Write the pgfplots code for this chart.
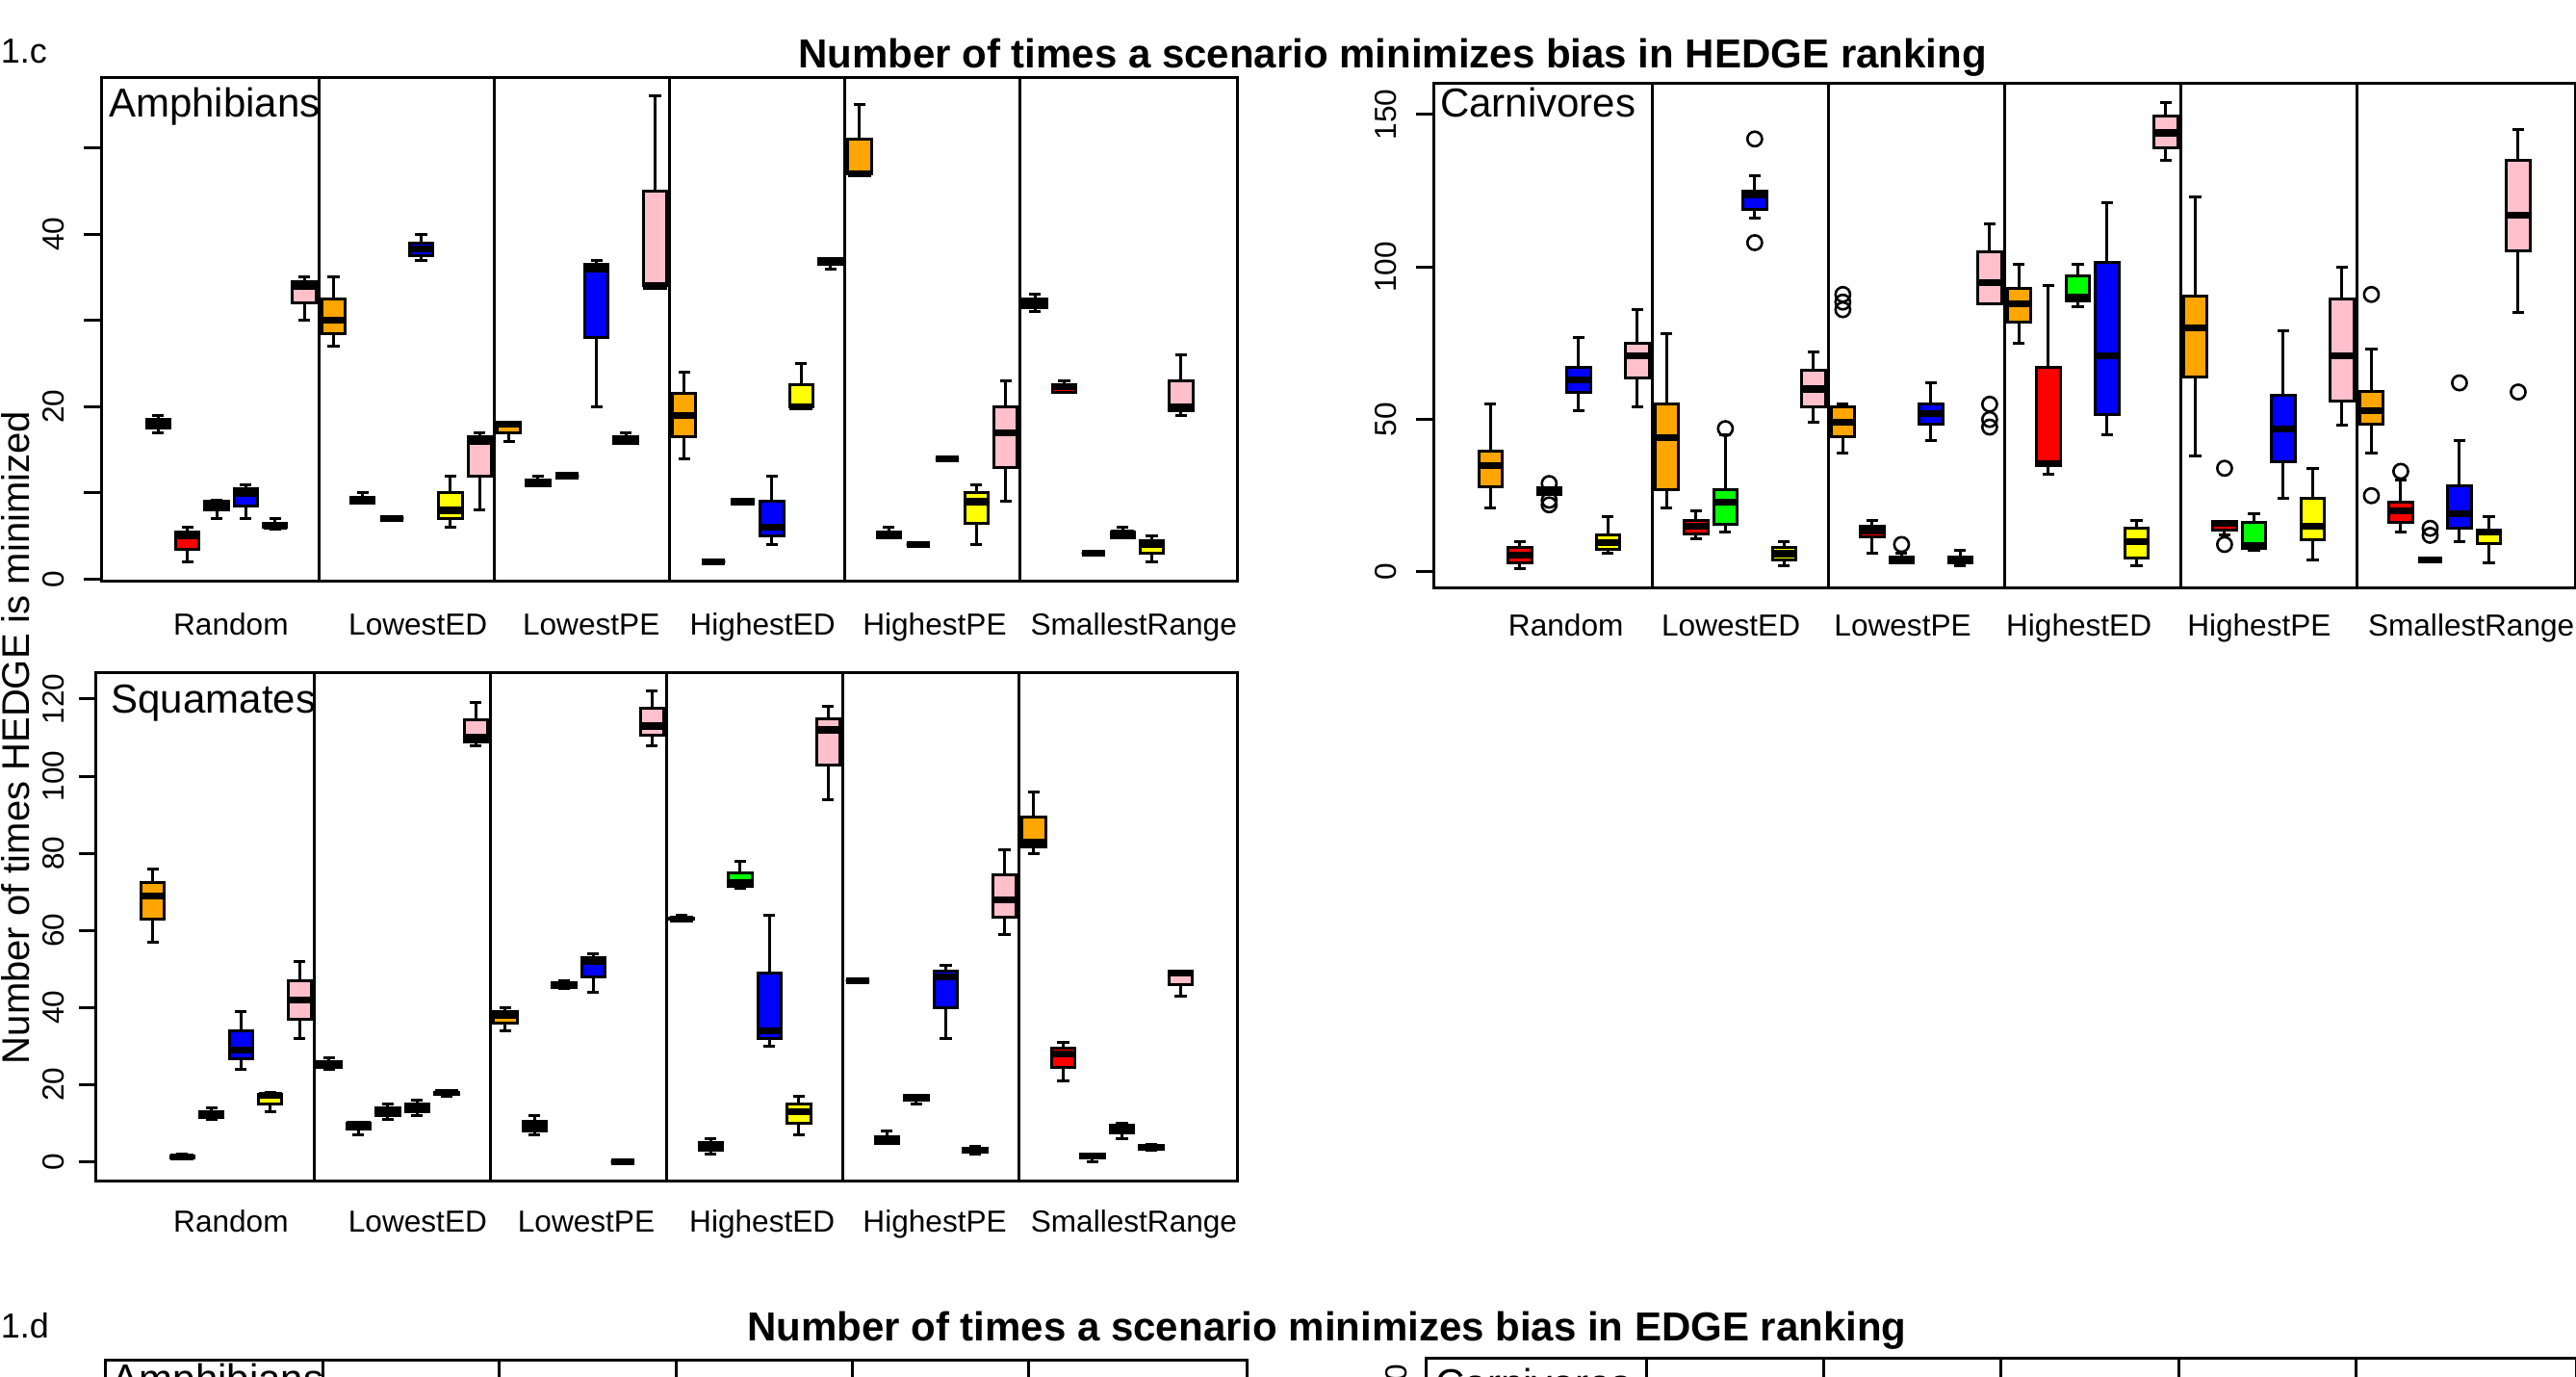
\documentclass[border=0pt]{standalone}
\usepackage{fontspec}
\setmainfont{Liberation Sans}
\usepackage{pgfplots}
\usepackage{pgfplotstable}
\pgfplotsset{compat=1.18}
\usepgfplotslibrary{statistics}

\definecolor{bOrange}{HTML}{FFA500}
\definecolor{bRed}{HTML}{FF0000}
\definecolor{bGreen}{HTML}{00FF00}
\definecolor{bBlue}{HTML}{0000FF}
\definecolor{bYellow}{HTML}{FFFF00}
\definecolor{bPink}{HTML}{FFC0CB}

\pgfplotscreateplotcyclelist{scen}{
{draw=black,fill=bOrange,mark=none,line width=0.75pt},
{draw=black,fill=bRed,mark=none,line width=0.75pt},
{draw=black,fill=bGreen,mark=none,line width=0.75pt},
{draw=black,fill=bBlue,mark=none,line width=0.75pt},
{draw=black,fill=bYellow,mark=none,line width=0.75pt},
{draw=black,fill=bPink,mark=none,line width=0.75pt}}

% box statistics, 6 scenarios x 6 colours, in plotting order
\pgfplotstableread{
lw q1 med q3 uw
17 17.5 18 18.5 19
2 3.5 5 5.5 6
7 8 8.5 9 9.2
7 8.5 10 10.5 11
5.8 6 6.2 6.5 7
30 32 34 34.5 35
27 28.5 30 32.5 35
8.8 8.8 9.2 9.5 10
7 7 7 7 7
37 37.5 38.3 39 40
6 7 8 10 12
8 12 16 16.5 17
16 17 18 18.2 18.2
10.8 10.8 11.3 11.5 12
12 12 12 12 12
20 28 36 36.5 37
15.8 15.8 16 16.5 17
34 34 34 45 56
14 16.5 19 21.5 24
2 2 2 2 2
9 9 9 9 9
4 5 6 9 12
20 20 20 22.5 25
36 36.5 36.8 37.2 37.2
47 47 47 51 55
4.8 4.8 5.1 5.5 6
4 4 4 4 4
14 14 14 14 14
4 6.5 9 10 11
9 13 17 20 23
31 31.5 32 32.5 33
21.7 21.7 22.3 22.5 23
3 3 3 3 3
4.8 4.8 5.4 5.5 6
2 3 4 4.5 5
19 19.5 20 23 26
}\amph

\pgfplotstableread{
lw q1 med q3 uw
21 28 35 39.5 55
1 3 5.5 8 10
25.5 25.5 26.5 27.5 27.5
53 59 63 67 77
6 7.5 9.7 12 18
54 63.5 71 75 86
21 27 44 55 78
11 12.5 15 17 20
13 15.5 23 27 45
116 119 123.5 125 130
2 4 6 8 10
49 54 60 66 72
39 44.5 49 54 55
6 11.5 13.3 15 17
3 3 4 5 6
43 48.5 52 55 62
2 3 4 5 7
88 88 95 105 114
75 82 88 93 101
32 35 35.5 67 94
87 89 90 97 101
45 51.5 71 101.5 121
2 4.5 10 14.3 17
135 139 144 149.4 154
38 64 80 90.4 123
12 13.6 16 16.5 16.5
7 7.6 8.5 16.4 19
24 36 47 58 79
4 10.7 15 24 34
48 56 71 89.4 100
39 48.4 53 59.3 73
13 16.3 20 22.8 30
4 4 4 4 4
10 14.3 19 28.4 43
3 9.3 13 13.8 18
85 105.4 117 135 145
}\carn

\pgfplotstableread{
lw q1 med q3 uw
57 63 69 72.5 76
1 1 1.2 1.5 2
11 11.6 12.3 13 14
24 26.6 29 34 39
13 15 17.2 17.5 18
32 37 42 47 52
24 24.5 25.2 26 27
7 8.4 9.8 10.1 10.3
11 12 13 14 15
12 13 14 15 16
17 17.5 18 18 18.2
108 109 110 114.7 119
34 36 38 39 40
7 7.9 9.3 10.5 12
45 45.3 46 46.5 47
44 48 52 53 54
0 0 0 0 0
108 110.6 113 117.6 122
63 63 63 63.3 64
2 3 4 5 6
71 71.5 72.3 75 78
30 32 34 49 64
7 10 13 15 17
94 103 112 115 118
47 47 47 47 47
4.8 4.8 5.5 6.5 8
15 16.1 16.6 17.3 17.3
32 40 48 49.5 51
2 2.5 3 3.4 4
59 63.5 68 74.5 81
80 81.6 83 89.5 96
21 24.5 28 29.5 31
0 1 1.4 2 2
6 7.5 8.5 9.5 10
3 3.3 3.8 4.2 4.5
43 46 49 49.4 49.4
}\squa

\pgfplotsset{
  panel/.style={
    scale only axis, anchor=north west,
    xmin=-0.94, xmax=37.94,
    axis line style={line width=0.75pt},
    tick align=outside, major tick length=4.5pt,
    xtick pos=bottom, ytick pos=left,
    xtick style={draw=none},
    ytick style={line width=0.75pt, black},
    extra x ticks={6.5,12.5,18.5,24.5,30.5},
    extra x tick labels={},
    extra x tick style={grid=major, major tick length=0pt,
      major grid style={solid, black, line width=0.75pt}},
    ticklabel style={font=\fontsize{7.9}{9}\selectfont},
    /pgf/number format/assume math mode=true,
    xticklabel style={anchor=base},
    yticklabel style={rotate=90, anchor=base},
    xticklabels={Random,LowestED,LowestPE,HighestED,HighestPE,SmallestRange},
    boxplot/draw direction=y,
    boxplot/box extend=0.8, boxplot/whisker extend=0.4,
    boxplot/every median/.style={line width=1.8pt},
    cycle list name=scen,
  },
  outl/.style={only marks, mark=o, mark size=1.9pt, black, line width=0.65pt},
}

% one prepared box per table row; draw position = row + 1
\newcommand{\boxes}[1]{%
  \pgfplotsinvokeforeach{0,...,35}{
    \pgfplotstablegetelem{##1}{lw}\of{#1}\let\vlw\pgfplotsretval
    \pgfplotstablegetelem{##1}{q1}\of{#1}\let\vqa\pgfplotsretval
    \pgfplotstablegetelem{##1}{med}\of{#1}\let\vmd\pgfplotsretval
    \pgfplotstablegetelem{##1}{q3}\of{#1}\let\vqc\pgfplotsretval
    \pgfplotstablegetelem{##1}{uw}\of{#1}\let\vuw\pgfplotsretval
    \edef\tmp{\noexpand\addplot+[boxplot prepared={lower whisker=\vlw,
      lower quartile=\vqa, median=\vmd, upper quartile=\vqc,
      upper whisker=\vuw}] coordinates {};}
    \tmp
  }}

\begin{document}
\begin{tikzpicture}
\useasboundingbox (0,0) rectangle (669pt,-357.25pt);
\clip (0,0) rectangle (669pt,-357.25pt);

% Amphibians
\begin{axis}[panel, at={(26.35pt,-20.1pt)}, width=295.1pt, height=130.65pt,
  ymin=-0.16, ymax=58.16, ytick={0,10,...,50}, yticklabels={0,,20,,40,},
  xtick={3.49,9.89,15.82,21.68,27.57,34.38},
  xticklabel shift=9.7pt, yticklabel shift=5.15pt]
\boxes{\amph}
\end{axis}

% Carnivores
\begin{axis}[panel, at={(372.28pt,-21.73pt)}, width=296.5pt, height=130.8pt,
  ymin=-5.12, ymax=160.12, ytick={0,50,100,150},
  xtick={3.57,9.19,15.04,21.04,27.18,34.4},
  xticklabel shift=8.05pt, yticklabel shift=5.15pt]
\boxes{\carn}
\addplot[outl] coordinates {(3,29) (3,23.5) (3,22) (9,47) (10,142) (10,108)
  (13,91) (13,88.5) (13,86) (15,9) (18,55) (18,50) (18,47.5) (26,34) (26,9)
  (31,91) (31,25) (32,33) (33,14.3) (33,12) (34,62) (36,59)};
\end{axis}

% Squamates
\begin{axis}[panel, at={(24.9pt,-174.6pt)}, width=296.5pt, height=131.9pt,
  ymin=-4.88, ymax=126.88, ytick={0,20,...,120},
  xtick={3.66,10.02,15.76,21.75,27.63,34.41},
  xticklabel shift=8.85pt, yticklabel shift=3.7pt]
\boxes{\squa}
\end{axis}

% 1.d panels (cut off at the bottom edge)
\begin{axis}[panel, at={(27.25pt,-353.2pt)}, width=296.5pt, height=131pt,
  ymin=0, ymax=1, xtick=\empty, ytick=\empty]
\end{axis}
\begin{axis}[panel, at={(370.4pt,-352.5pt)}, width=298.6pt, height=131pt,
  ymin=0, ymax=1, xtick=\empty, ytick=\empty]
\end{axis}

\node[anchor=base west, inner sep=0, font=\fontsize{10.5}{12}\selectfont] at (28.1pt,-30.4pt) {Amphibians};
\node[anchor=base west, inner sep=0, font=\fontsize{10.5}{12}\selectfont] at (373.85pt,-30.4pt) {Carnivores};
\node[anchor=base west, inner sep=0, font=\fontsize{10.5}{12}\selectfont] at (28.7pt,-185.1pt) {Squamates};
\node[anchor=base west, inner sep=0, font=\fontsize{10.5}{12}\selectfont] at (29pt,-361.6pt) {Amphibians};
\node[anchor=base west, inner sep=0, font=\fontsize{10.5}{12}\selectfont] at (372.7pt,-362.8pt) {Carnivores};
\node[anchor=base east, inner sep=0, rotate=90, font=\fontsize{7.9}{9}\selectfont] at (365.25pt,-354pt) {200};

\node[anchor=base west, inner sep=0, font=\fontsize{9}{11}\selectfont] at (0pt,-16.3pt) {1.c};
\node[anchor=base west, inner sep=0, font=\fontsize{9}{11}\selectfont] at (0pt,-347.3pt) {1.d};
\node[anchor=base, inner sep=0, font=\bfseries\fontsize{10.5}{12}\selectfont] at (361.6pt,-17.6pt)
  {Number of times a scenario minimizes bias in HEDGE ranking};
\node[anchor=base, inner sep=0, font=\bfseries\fontsize{10.5}{12}\selectfont] at (344.6pt,-348.2pt)
  {Number of times a scenario minimizes bias in EDGE ranking};
\node[anchor=base, inner sep=0, rotate=90, font=\fontsize{10}{12}\selectfont] at (7.6pt,-191.5pt)
  {Number of times HEDGE is minimized};
\end{tikzpicture}
\end{document}
